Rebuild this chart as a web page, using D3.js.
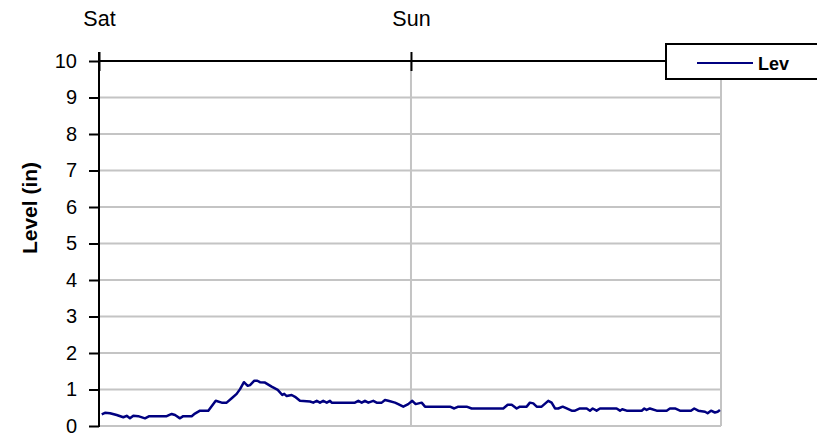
<!DOCTYPE html>
<html>
<head>
<meta charset="utf-8">
<script src="https://cdn.jsdelivr.net/npm/d3@7"></script>
<style>
  html, body { margin: 0; padding: 0; background: #fff; }
  svg { display: block; }
  text { font-family: "Liberation Sans", Arial, sans-serif; fill: #000; }
</style>
</head>
<body>
<svg id="chart" width="817" height="435"></svg>
<script>
// ---- data (hours since Saturday 00:00, level in inches) ----
const hours = [0.21,0.46,0.85,1.36,1.87,2.13,2.38,2.64,3.02,3.54,3.87,5.21,5.59,5.85,6.23,6.48,7.13,7.38,7.77,
  8.41,8.98,9.44,9.82,10.21,10.59,10.85,11.15,11.44,11.62,11.95,12.18,12.38,12.77,13.28,13.75,14.10,14.25,14.44,14.82,
  15.08,15.46,16.23,16.48,16.75,17.0,17.25,17.52,17.77,17.9,19.69,19.95,20.21,20.46,20.72,21.1,21.36,21.75,22.0,22.25,
  22.77,23.02,23.41,23.79,24.1,24.36,24.82,25.08,27.0,27.33,27.64,28.28,28.67,31.1,31.44,31.75,32.13,32.38,32.9,
  33.15,33.41,33.67,34.05,34.56,34.82,35.08,35.33,35.67,35.98,36.36,36.62,37.0,37.52,37.77,37.98,38.28,38.54,39.82,
  40.08,40.25,40.59,41.75,41.95,42.13,42.38,42.9,43.67,43.92,44.31,44.69,45.54,45.79,46.1,46.62,46.82,47.08,47.38,47.59,47.77];
const level = [0.32,0.36,0.35,0.30,0.24,0.28,0.21,0.28,0.27,0.21,0.27,0.27,0.33,0.30,0.21,0.27,0.27,0.34,0.42,
  0.42,0.69,0.64,0.64,0.76,0.88,1.01,1.20,1.10,1.12,1.24,1.24,1.20,1.19,1.08,0.99,0.85,0.88,0.82,0.85,
  0.80,0.69,0.67,0.64,0.69,0.64,0.69,0.64,0.69,0.64,0.64,0.69,0.64,0.69,0.64,0.69,0.64,0.64,0.71,0.69,
  0.64,0.60,0.53,0.60,0.69,0.60,0.64,0.53,0.53,0.48,0.53,0.53,0.48,0.48,0.58,0.58,0.48,0.53,0.53,
  0.64,0.62,0.53,0.53,0.69,0.64,0.48,0.48,0.53,0.48,0.42,0.42,0.48,0.48,0.42,0.48,0.42,0.48,0.48,
  0.42,0.46,0.42,0.42,0.48,0.44,0.48,0.42,0.42,0.48,0.48,0.42,0.42,0.48,0.42,0.39,0.35,0.42,0.37,0.39,0.44];
const dayLabels = ["Sat", "Sun"];
const yTicks = [0,1,2,3,4,5,6,7,8,9,10];
const seriesName = "Lev";
const yTitle = "Level (in)";
const spanHours = 47.85;

// ---- layout ----
const W = 817, H = 435;
const m = { left: 99, right: 96, top: 61, bottom: 9 };
const start = new Date(2000, 0, 1); // a Saturday
const addH = h => new Date(start.getTime() + h * 3600e3);

const x = d3.scaleTime().domain([start, addH(spanHours)]).range([m.left, W - m.right]);
const y = d3.scaleLinear().domain([0, 10]).range([H - m.bottom, m.top]);

const svg = d3.select("#chart");
const data = hours.map((h, i) => ({ t: addH(h), v: level[i] }));
const dayTicks = dayLabels.map((_, i) => addH(i * 24));

const grid = "#c4c4c4";
// horizontal gridlines
svg.append("g").selectAll("line").data(yTicks.filter(d => d < 10)).join("line")
  .attr("x1", m.left).attr("x2", W - m.right)
  .attr("y1", d => y(d)).attr("y2", d => y(d))
  .attr("stroke", grid).attr("stroke-width", 2);
// vertical gridlines (days after the first) and right border
svg.append("g").selectAll("line").data(dayTicks.slice(1).concat([addH(spanHours)])).join("line")
  .attr("x1", d => x(d)).attr("x2", d => x(d))
  .attr("y1", m.top).attr("y2", y(0))
  .attr("stroke", grid).attr("stroke-width", 2);

// series line
svg.append("path").datum(data)
  .attr("d", d3.line().x(d => x(d.t)).y(d => y(d.v)))
  .attr("fill", "none").attr("stroke", "#000080").attr("stroke-width", 2.5)
  .attr("stroke-linejoin", "round");

// top axis (day labels)
const topAxis = svg.append("g").attr("transform", `translate(0,${m.top})`)
  .call(d3.axisTop(x).tickValues(dayTicks).tickFormat((d, i) => dayLabels[i])
    .tickSizeInner(9).tickSizeOuter(0).tickPadding(26));
topAxis.select(".domain").attr("stroke", "#000").attr("stroke-width", 2)
  .attr("d", `M${m.left},0H${W - m.right}`);
topAxis.selectAll(".tick line").attr("stroke", "#000").attr("stroke-width", 2).attr("y1", 10);
topAxis.selectAll(".tick text").attr("font-size", 21.5).attr("font-family", "Liberation Sans, Arial, sans-serif").attr("fill", "#000");

// left axis
const leftAxis = svg.append("g").attr("transform", `translate(${m.left},0)`)
  .call(d3.axisLeft(y).tickValues(yTicks).tickFormat(d3.format("d"))
    .tickSizeInner(10).tickSizeOuter(0).tickPadding(12));
leftAxis.select(".domain").attr("stroke", "#000").attr("stroke-width", 2)
  .attr("d", `M0,${m.top - 9}V${y(0) + 1}`);
leftAxis.selectAll(".tick line").attr("stroke", "#000").attr("stroke-width", 2);
leftAxis.selectAll(".tick text").attr("font-size", 20).attr("font-family", "Liberation Sans, Arial, sans-serif").attr("fill", "#000");

// y title
svg.append("text")
  .attr("transform", `translate(37,208) rotate(-90)`)
  .attr("text-anchor", "middle").attr("font-size", 21).attr("font-weight", "bold")
  .text(yTitle);

// legend
const lg = svg.append("g");
lg.append("rect").attr("x", 666).attr("y", 44).attr("width", 200).attr("height", 35)
  .attr("fill", "#fff").attr("stroke", "#000").attr("stroke-width", 2);
lg.append("line").attr("x1", 697).attr("x2", 753).attr("y1", 63).attr("y2", 63)
  .attr("stroke", "#000080").attr("stroke-width", 2);
lg.append("text").attr("x", 758).attr("y", 70).attr("font-size", 18).attr("font-weight", "bold").text(seriesName);
</script>
</body>
</html>
